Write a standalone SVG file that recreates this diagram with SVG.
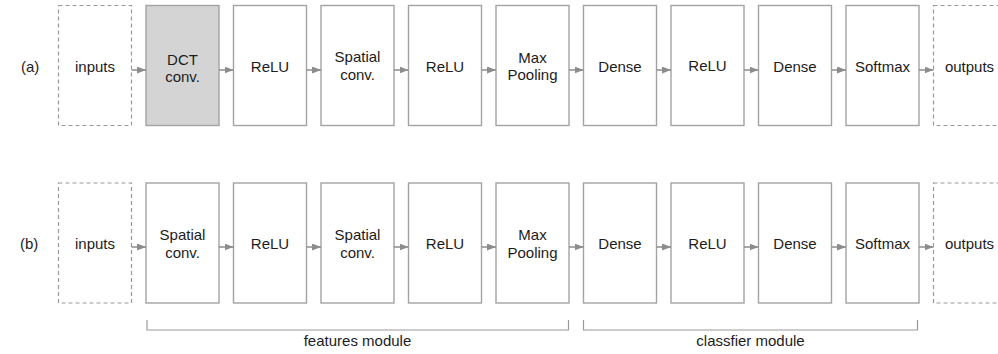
<svg xmlns="http://www.w3.org/2000/svg" width="998" height="354" viewBox="0 0 998 354">
  <style>
    .box { fill: #ffffff; stroke: #a3a3a3; stroke-width: 1.4; }
    .dct { fill: #d4d4d4; }
    .io { fill: #ffffff; stroke: #9a9a9a; stroke-width: 1.2; stroke-dasharray: 4 3; }
    .lbl { font-family: "Liberation Sans", Arial, sans-serif; font-size: 15px; fill: #1c1c1c; text-anchor: middle; }
    .side { font-family: "Liberation Sans", Arial, sans-serif; font-size: 15px; fill: #1c1c1c; }
    .arr { stroke: #8c8c8c; stroke-width: 1.5; fill: none; marker-end: url(#head); }
    .brk { stroke: #9a9a9a; stroke-width: 1.2; fill: none; }
  </style>
  <defs>
    <marker id="head" markerUnits="userSpaceOnUse" markerWidth="9" markerHeight="7" refX="9" refY="3.5" orient="auto">
      <path d="M0,0 L9,3.5 L0,7 z" fill="#8c8c8c"/>
    </marker>
  </defs>

  <rect width="998" height="354" fill="#ffffff"/>

  <!-- row labels -->
  <text class="side" x="21" y="72">(a)</text>
  <text class="side" x="20" y="249">(b)</text>

  <!-- row (a) -->
  <g id="a-inputs"><rect class="io" x="58.5" y="5.5" width="73" height="120"/><text class="lbl" x="95" y="72">inputs</text></g>
  <g id="a-dct"><rect class="box dct" x="146" y="5.5" width="73" height="120"/><text class="lbl" x="182.5" y="65">DCT</text><text class="lbl" x="182.5" y="82">conv.</text></g>
  <g id="a-relu1"><rect class="box" x="233.5" y="5.5" width="73" height="120"/><text class="lbl" x="270" y="72">ReLU</text></g>
  <g id="a-spatial"><rect class="box" x="321" y="5.5" width="73" height="120"/><text class="lbl" x="357.5" y="62">Spatial</text><text class="lbl" x="357.5" y="80">conv.</text></g>
  <g id="a-relu2"><rect class="box" x="408.5" y="5.5" width="73" height="120"/><text class="lbl" x="445" y="72">ReLU</text></g>
  <g id="a-pool"><rect class="box" x="496" y="5.5" width="73" height="120"/><text class="lbl" x="532.5" y="63">Max</text><text class="lbl" x="532.5" y="80">Pooling</text></g>
  <g id="a-dense1"><rect class="box" x="583.5" y="5.5" width="73" height="120"/><text class="lbl" x="620" y="72">Dense</text></g>
  <g id="a-relu3"><rect class="box" x="671" y="5.5" width="73" height="120"/><text class="lbl" x="707.5" y="70.5">ReLU</text></g>
  <g id="a-dense2"><rect class="box" x="758.5" y="5.5" width="73" height="120"/><text class="lbl" x="795" y="72">Dense</text></g>
  <g id="a-softmax"><rect class="box" x="846" y="5.5" width="73" height="120"/><text class="lbl" x="882.5" y="72">Softmax</text></g>
  <g id="a-outputs"><rect class="io" x="933.5" y="5.5" width="73" height="120"/><text class="lbl" x="969.5" y="72">outputs</text></g>

  <!-- row (b) -->
  <g id="b-inputs"><rect class="io" x="58.5" y="183" width="73" height="120"/><text class="lbl" x="95" y="248.5">inputs</text></g>
  <g id="b-spatial1"><rect class="box" x="146" y="183" width="73" height="120"/><text class="lbl" x="182.5" y="240">Spatial</text><text class="lbl" x="182.5" y="258">conv.</text></g>
  <g id="b-relu1"><rect class="box" x="233.5" y="183" width="73" height="120"/><text class="lbl" x="270" y="248.5">ReLU</text></g>
  <g id="b-spatial2"><rect class="box" x="321" y="183" width="73" height="120"/><text class="lbl" x="357.5" y="240">Spatial</text><text class="lbl" x="357.5" y="258">conv.</text></g>
  <g id="b-relu2"><rect class="box" x="408.5" y="183" width="73" height="120"/><text class="lbl" x="445" y="248.5">ReLU</text></g>
  <g id="b-pool"><rect class="box" x="496" y="183" width="73" height="120"/><text class="lbl" x="532.5" y="240">Max</text><text class="lbl" x="532.5" y="258">Pooling</text></g>
  <g id="b-dense1"><rect class="box" x="583.5" y="183" width="73" height="120"/><text class="lbl" x="620" y="248.5">Dense</text></g>
  <g id="b-relu3"><rect class="box" x="671" y="183" width="73" height="120"/><text class="lbl" x="707.5" y="248.5">ReLU</text></g>
  <g id="b-dense2"><rect class="box" x="758.5" y="183" width="73" height="120"/><text class="lbl" x="795" y="248.5">Dense</text></g>
  <g id="b-softmax"><rect class="box" x="846" y="183" width="73" height="120"/><text class="lbl" x="882.5" y="248.5">Softmax</text></g>
  <g id="b-outputs"><rect class="io" x="933.5" y="183" width="73" height="120"/><text class="lbl" x="969.5" y="248.5">outputs</text></g>

  <!-- connectors -->
  <g id="connectors">
    <line class="arr" x1="131.5" y1="70" x2="146" y2="70"/>
    <line class="arr" x1="219" y1="70" x2="233.5" y2="70"/>
    <line class="arr" x1="306.5" y1="70" x2="321" y2="70"/>
    <line class="arr" x1="394" y1="70" x2="408.5" y2="70"/>
    <line class="arr" x1="481.5" y1="70" x2="496" y2="70"/>
    <line class="arr" x1="569" y1="70" x2="583.5" y2="70"/>
    <line class="arr" x1="656.5" y1="70" x2="671" y2="70"/>
    <line class="arr" x1="744" y1="70" x2="758.5" y2="70"/>
    <line class="arr" x1="831.5" y1="70" x2="846" y2="70"/>
    <line class="arr" x1="919" y1="70" x2="933.5" y2="70"/>

    <line class="arr" x1="131.5" y1="247" x2="146" y2="247"/>
    <line class="arr" x1="219" y1="247" x2="233.5" y2="247"/>
    <line class="arr" x1="306.5" y1="247" x2="321" y2="247"/>
    <line class="arr" x1="394" y1="247" x2="408.5" y2="247"/>
    <line class="arr" x1="481.5" y1="247" x2="496" y2="247"/>
    <line class="arr" x1="569" y1="247" x2="583.5" y2="247"/>
    <line class="arr" x1="656.5" y1="247" x2="671" y2="247"/>
    <line class="arr" x1="744" y1="247" x2="758.5" y2="247"/>
    <line class="arr" x1="831.5" y1="247" x2="846" y2="247"/>
    <line class="arr" x1="919" y1="247" x2="933.5" y2="247"/>
  </g>

  <!-- module brackets -->
  <g id="features-module">
    <path class="brk" d="M147,320 V330 H568.5 V320"/>
    <text class="lbl" x="357.5" y="346">features module</text>
  </g>
  <g id="classifier-module">
    <path class="brk" d="M583.5,320 V330 H917.5 V320"/>
    <text class="lbl" x="750.5" y="346">classfier module</text>
  </g>
</svg>
